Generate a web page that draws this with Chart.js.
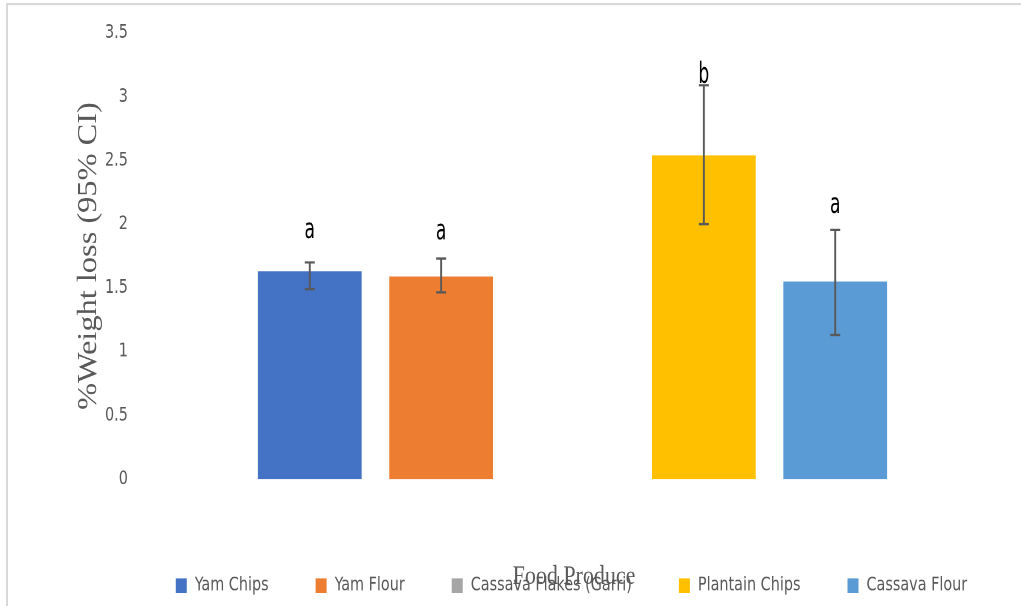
<!DOCTYPE html>
<html>
<head>
<meta charset="utf-8">
<title>Weight loss by food produce</title>
<script src="https://cdn.jsdelivr.net/npm/chart.js@4.4.1/dist/chart.umd.min.js"></script>
<style>
  html, body { margin: 0; padding: 0; background: #ffffff; overflow: hidden; }
  #wrap { position: relative; width: 1021px; height: 606px; overflow: hidden; }
  /* the figure is laid out on a shorter canvas and shown with tall, narrow lettering */
  #chart { display: block; transform: scaleY(1.2); transform-origin: 0 0; }
</style>
</head>
<body>
<div id="wrap"><canvas id="chart" width="1021" height="505"></canvas></div>
<script>
// Mean % weight loss per food produce, with 95% confidence limits
const category = [''];
const seriesNames = ['Yam Chips', 'Yam Flour', 'Cassava Flakes (Garri)', 'Plantain Chips', 'Cassava Flour'];
const meanLoss = [1.63, 1.59, null, 2.54, 1.55];
const ciLower = [1.49, 1.465, null, 2.0, 1.13];
const ciUpper = [1.70, 1.73, null, 3.09, 1.955];
const sigLetters = ['a', 'a', '', 'b', 'a'];
const seriesColors = ['#4472C4', '#ED7D31', '#A5A5A5', '#FFC000', '#5B9BD5'];
const yTitle = '%Weight loss (95% CI)';
const xTitle = 'Food Produce';

const narrow = "'DejaVu Sans Condensed', 'Liberation Sans Narrow', 'Arial Narrow', sans-serif";
const serif = "'Liberation Serif', 'DejaVu Serif', 'Times New Roman', serif";
const grey = '#595959';

// Whisker lines for the confidence interval of each bar
const ciWhiskers = {
  id: 'ciWhiskers',
  afterDatasetsDraw(chart, args, opts) {
    const ctx = chart.ctx;
    const y = chart.scales.y;
    ctx.save();
    ctx.strokeStyle = opts.color;
    ctx.lineWidth = opts.width;
    chart.data.datasets.forEach((ds, i) => {
      if (ciLower[i] == null || ciUpper[i] == null) return;
      const bar = chart.getDatasetMeta(i).data[0];
      if (!bar) return;
      const x = bar.x;
      const yLo = y.getPixelForValue(ciLower[i]);
      const yHi = y.getPixelForValue(ciUpper[i]);
      const half = opts.cap / 2;
      ctx.beginPath();
      ctx.moveTo(x, yLo); ctx.lineTo(x, yHi);
      ctx.moveTo(x - half, yLo); ctx.lineTo(x + half, yLo);
      ctx.moveTo(x - half, yHi); ctx.lineTo(x + half, yHi);
      ctx.stroke();
    });
    ctx.restore();
  }
};

// Significance letters above the whiskers
const sigMarks = {
  id: 'sigMarks',
  afterDatasetsDraw(chart, args, opts) {
    const ctx = chart.ctx;
    const y = chart.scales.y;
    ctx.save();
    ctx.fillStyle = opts.color;
    ctx.font = opts.size + 'px ' + narrow;
    ctx.textAlign = 'center';
    ctx.textBaseline = 'alphabetic';
    chart.data.datasets.forEach((ds, i) => {
      if (!sigLetters[i]) return;
      const bar = chart.getDatasetMeta(i).data[0];
      const base = y.getPixelForValue(ciUpper[i]) - opts.lift[i];
      ctx.save();
      ctx.translate(bar.x, base);
      ctx.scale(1, opts.stretch);
      ctx.fillText(sigLetters[i], 0, 0);
      ctx.restore();
    });
    ctx.restore();
  }
};

// Axis titles in a serif face, plus the light frame on the top and left
const frameAndTitles = {
  id: 'frameAndTitles',
  afterDraw(chart) {
    const ctx = chart.ctx;
    const area = chart.chartArea;
    ctx.save();
    ctx.fillStyle = '#D9D9D9';
    ctx.fillRect(6, 2.5, 2, chart.height - 2.5);
    ctx.fillRect(6, 2.5, chart.width - 6, 1.7);

    ctx.fillStyle = grey;
    ctx.textAlign = 'center';
    ctx.textBaseline = 'middle';
    ctx.font = '27px ' + serif;
    ctx.save();
    ctx.translate(89, (area.top + area.bottom) / 2);
    ctx.rotate(-Math.PI / 2);
    ctx.fillText(yTitle, 0, 0);
    ctx.restore();

    ctx.textBaseline = 'alphabetic';
    ctx.font = '22px ' + serif;
    ctx.fillText(xTitle, 574, 486.5);
    ctx.restore();
  }
};

const datasets = seriesNames.map((name, i) => ({
  label: name,
  data: [meanLoss[i]],
  backgroundColor: seriesColors[i],
  borderWidth: 0,
  categoryPercentage: 0.8,
  barPercentage: 0.79
}));

new Chart(document.getElementById('chart'), {
  type: 'bar',
  data: { labels: category, datasets },
  options: {
    responsive: false,
    animation: false,
    devicePixelRatio: 2,
    layout: { padding: { left: 122, right: 0, top: 27.5, bottom: 0 } },
    scales: {
      x: {
        grid: { display: false },
        border: { display: false },
        ticks: { display: false },
        afterFit(scale) { scale.height = 33.8; }
      },
      y: {
        min: 0,
        max: 3.5,
        grid: { display: false },
        border: { display: false },
        ticks: {
          stepSize: 0.5,
          mirror: true,
          crossAlign: 'far',
          padding: -57,
          color: grey,
          font: { family: narrow, size: 16 },
          callback: (value) => String(value)
        },
        afterFit(scale) { scale.width = 40; }
      },
      rightMargin: {
        position: 'right',
        grid: { display: false },
        border: { display: false },
        ticks: { display: false },
        afterFit(scale) { scale.width = 38; }
      }
    },
    plugins: {
      legend: {
        position: 'bottom',
        maxHeight: 72,
        labels: {
          boxWidth: 11,
          boxHeight: 12,
          padding: 47,
          color: grey,
          font: { family: narrow, size: 16 }
        }
      },
      tooltip: { enabled: false },
      ciWhiskers: { color: '#595959', width: 1.9, cap: 10 },
      sigMarks: { color: '#000000', size: 19, stretch: 1.25, lift: [20, 16, 0, 2, 14] }
    }
  },
  plugins: [ciWhiskers, sigMarks, frameAndTitles]
});
</script>
</body>
</html>
